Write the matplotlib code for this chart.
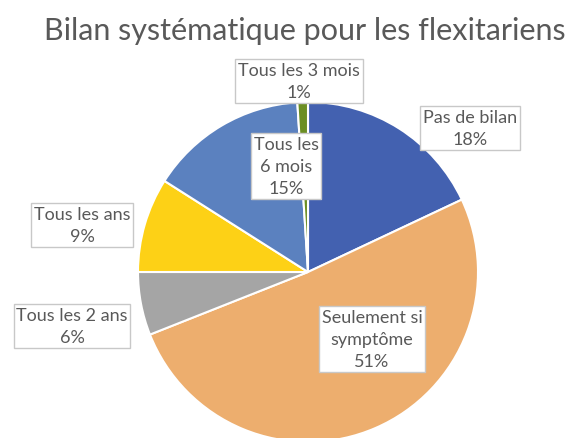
# Pie chart: bilan systématique pour les flexitariens
import matplotlib.pyplot as plt

# data
categories = ["Pas de bilan", "Seulement si\nsymptôme", "Tous les 2 ans",
              "Tous les ans", "Tous les\n6 mois", "Tous les 3 mois"]
values = [18, 51, 6, 9, 15, 1]
colors = ["#4361B0", "#EDAE6E", "#A5A5A5", "#FDD116", "#5B81BF", "#6B8E23"]

# label box centres in pixel units (figure is 571 x 439)
label_pos = [(470, 310), (372, 99), (72, 112), (82, 213), (286, 272), (299, 357)]

TEXT_COLOR = "#595959"
plt.rcParams["font.family"] = ["Lato", "DejaVu Sans"]

fig = plt.figure(figsize=(5.71, 4.39), dpi=100)
ax = fig.add_axes([0, 0, 1, 1])

ax.pie(values, colors=colors, startangle=90, counterclock=False,
       center=(308, 166), radius=170,
       wedgeprops=dict(edgecolor="white", linewidth=1.5))
ax.set_xlim(0, 571)
ax.set_ylim(0, 439)
ax.set_aspect("equal")
ax.axis("off")

total = sum(values)
for cat, val, (x, y) in zip(categories, values, label_pos):
    ax.text(x, y, f"{cat}\n{round(100 * val / total)}%", ha="center", va="center",
            fontsize=13, color=TEXT_COLOR, linespacing=1.45,
            bbox=dict(boxstyle="square,pad=0.15", fc="white", ec="#C8C8C8", lw=1))

fig.text(0.534, 0.929, "Bilan systématique pour les flexitariens", ha="center",
         va="center", fontsize=22, color=TEXT_COLOR)

fig.savefig("out.png", dpi=100)
